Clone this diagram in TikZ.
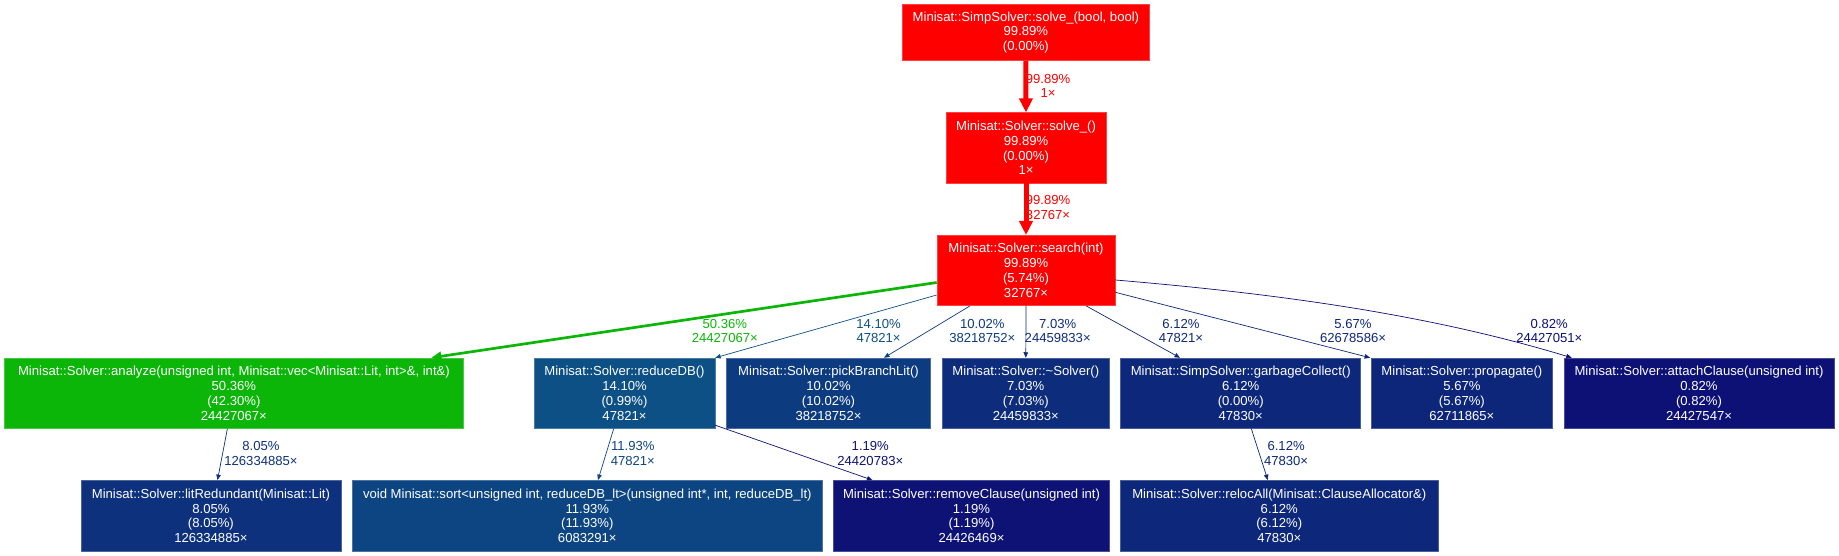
\documentclass[tikz,border=0pt]{standalone}
\usepackage{fontspec}
\newfontfamily\lsans{Liberation Sans}
\usetikzlibrary{arrows.meta}
\definecolor{cRed}{RGB}{255,0,0}
\definecolor{cGreen}{RGB}{12,182,9}
\definecolor{cA}{RGB}{13,80,133}
\definecolor{cB}{RGB}{13,69,130}
\definecolor{cC}{RGB}{13,59,128}
\definecolor{cD}{RGB}{13,49,125}
\definecolor{cE}{RGB}{13,44,124}
\definecolor{cF}{RGB}{13,40,123}
\definecolor{cG}{RGB}{13,38,122}
\definecolor{cH}{RGB}{13,18,116}
\definecolor{cI}{RGB}{13,16,116}
\newcommand\gfont{\lsans\fontsize{13.1}{14.8}\selectfont}
\tikzset{
  box/.style={rectangle, inner sep=0pt, text=white, font=\gfont, align=center,
    fill=#1, draw=#1!75!white, line width=0.6pt},
  lab/.style={inner sep=0pt, text=#1, font=\gfont, align=center},
  ethick/.style={draw=#1, line width=5pt, -{Triangle[length=14pt,width=13pt]}},
  emid/.style={draw=#1, line width=2.7pt, -{Triangle[length=10pt,width=9pt]}},
  ethin/.style={draw=#1, line width=0.7pt, -{Triangle[length=5.5pt,width=4.5pt]}},
}
\begin{document}
\begin{tikzpicture}[x=1pt,y=-1pt]
\useasboundingbox[fill=white] (0,0) rectangle (1839,556);

% nodes
\node[box=cRed, minimum width=246.3pt, minimum height=55.6pt] (simp) at (1025.9,32.5)
  {Minisat::SimpSolver::solve\_(bool, bool)\\99.89\%\\(0.00\%)};
\node[box=cRed, minimum width=160pt, minimum height=70.3pt] (solve) at (1026,147.9)
  {Minisat::Solver::solve\_()\\99.89\%\\(0.00\%)\\1×};
\node[box=cRed, minimum width=178pt, minimum height=70.4pt] (search) at (1026,270.5)
  {Minisat::Solver::search(int)\\99.89\%\\(5.74\%)\\32767×};

\node[box=cGreen, minimum width=458.3pt, minimum height=70.3pt] (analyze) at (233.9,393.2)
  {Minisat::Solver::analyze(unsigned int, Minisat::vec<Minisat::Lit, int>\&, int\&)\\50.36\%\\(42.30\%)\\24427067×};
\node[box=cA, minimum width=180.8pt, minimum height=70.3pt] (reduce) at (624.5,393.2)
  {Minisat::Solver::reduceDB()\\14.10\%\\(0.99\%)\\47821×};
\node[box=cC, minimum width=203.9pt, minimum height=70.3pt] (pick) at (828.5,393.2)
  {Minisat::Solver::pickBranchLit()\\10.02\%\\(10.02\%)\\38218752×};
\node[box=cE, minimum width=167.5pt, minimum height=70.3pt] (nots) at (1025.8,393.2)
  {Minisat::Solver::\textasciitilde Solver()\\7.03\%\\(7.03\%)\\24459833×};
\node[box=cF, minimum width=239.9pt, minimum height=70.3pt] (gc) at (1240.7,393.2)
  {Minisat::SimpSolver::garbageCollect()\\6.12\%\\(0.00\%)\\47830×};
\node[box=cG, minimum width=181pt, minimum height=70.3pt] (prop) at (1461.9,393.2)
  {Minisat::Solver::propagate()\\5.67\%\\(5.67\%)\\62711865×};
\node[box=cI, minimum width=270pt, minimum height=70.3pt] (attach) at (1699,393.2)
  {Minisat::Solver::attachClause(unsigned int)\\0.82\%\\(0.82\%)\\24427547×};

\node[box=cD, minimum width=259.8pt, minimum height=70.8pt] (litr) at (210.9,515.8)
  {Minisat::Solver::litRedundant(Minisat::Lit)\\8.05\%\\(8.05\%)\\126334885×};
\node[box=cB, minimum width=470.7pt, minimum height=70.8pt] (sort) at (587.3,515.8)
  {void Minisat::sort<unsigned int, reduceDB\_lt>(unsigned int*, int, reduceDB\_lt)\\11.93\%\\(11.93\%)\\6083291×};
\node[box=cH, minimum width=276.1pt, minimum height=70.8pt] (remove) at (971.5,515.8)
  {Minisat::Solver::removeClause(unsigned int)\\1.19\%\\(1.19\%)\\24426469×};
\node[box=cF, minimum width=317.2pt, minimum height=70.8pt] (reloc) at (1279.3,515.8)
  {Minisat::Solver::relocAll(Minisat::ClauseAllocator\&)\\6.12\%\\(6.12\%)\\47830×};

% edges
\draw[ethick=cRed] (simp) -- (solve);
\draw[ethick=cRed] (solve) -- (search);
\draw[emid=cGreen] ([yshift=-12pt]search.west) -- ([xshift=-32pt]analyze.north east);
\draw[ethin=cA] ([yshift=-24.5pt]search.west) -- (reduce.north east);
\draw[ethin=cC] ([xshift=-56.2pt]search.south) -- ([xshift=55.5pt]pick.north);
\draw[ethin=cE] (search.south) -- (nots.north);
\draw[ethin=cF] ([xshift=60.3pt]search.south) -- ([xshift=-60.7pt]gc.north);
\draw[ethin=cG] ([yshift=-21.8pt]search.east) -- ([xshift=-1pt]prop.north west);
\draw[ethin=cI] ([yshift=-9.5pt]search.east) .. controls +(166pt,-14pt) and +(-142pt,43pt) .. ([xshift=8pt]attach.north west);
\draw[ethin=cD] ([xshift=-6.5pt]analyze.south) -- ([xshift=6.6pt]litr.north);
\draw[ethin=cB] ([xshift=-10.8pt]reduce.south) -- ([xshift=10.7pt]sort.north);
\draw[ethin=cH] ([yshift=-32pt]reduce.east) -- ([xshift=-99.1pt]remove.north);
\draw[ethin=cF] ([xshift=10.6pt]gc.south) -- ([xshift=-11.5pt]reloc.north);

% edge labels
\node[lab=cRed] (l1) at (1048,86) {99.89\%\\1×};
\node[lab=cRed] (l2) at (1048,207.5) {99.89\%\\32767×};
\node[lab=cGreen] (l3) at (724.8,331) {50.36\%\\24427067×};
\node[lab=cA] (l4) at (878.6,331) {14.10\%\\47821×};
\node[lab=cC] (l5) at (982.3,331) {10.02\%\\38218752×};
\node[lab=cE] (l6) at (1057.7,331) {7.03\%\\24459833×};
\node[lab=cF] (l7) at (1181,331) {6.12\%\\47821×};
\node[lab=cG] (l8) at (1353,331) {5.67\%\\62678586×};
\node[lab=cI] (l9) at (1549.3,331) {0.82\%\\24427051×};
\node[lab=cD] (l10) at (261,453.7) {8.05\%\\126334885×};
\node[lab=cB] (l11) at (632.8,453.7) {11.93\%\\47821×};
\node[lab=cH] (l12) at (870.3,453.7) {1.19\%\\24420783×};
\node[lab=cF] (l13) at (1286.1,453.7) {6.12\%\\47830×};
\end{tikzpicture}
\end{document}
